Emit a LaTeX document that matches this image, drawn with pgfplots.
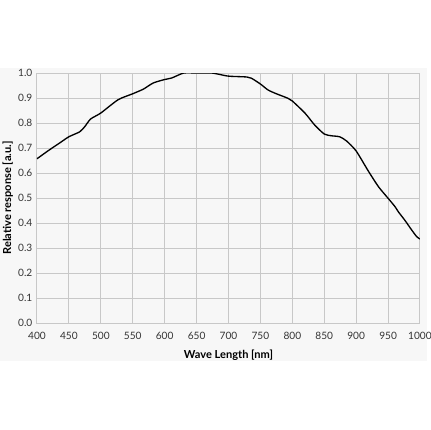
\documentclass[border=0pt]{standalone}
\usepackage{fontspec}
\setmainfont{Lato}
\usepackage{pgfplots}
\pgfplotsset{compat=1.18}
\definecolor{bgGray}{RGB}{247,247,247}
\definecolor{gridGray}{RGB}{200,200,200}
\definecolor{tickText}{RGB}{51,51,51}

\begin{document}
\begin{tikzpicture}
    % 430 x 430 px canvas, 1px = 0.75pt
    \useasboundingbox (0pt,0pt) rectangle (322.5pt,322.5pt);
    \fill[bgGray] (0pt,51.75pt) rectangle (320.25pt,271.7pt);
    \begin{axis}[
        at={(27.75pt,80.25pt)}, anchor=south west,
        scale only axis,
        width=287.25pt, height=187.5pt,
        xmin=400, xmax=1000, ymin=0, ymax=1,
        xtick={400,450,...,1000},
        ytick={0,0.1,...,1.0},
        yticklabel style={/pgf/number format/.cd, fixed, fixed zerofill, precision=1},
        /pgf/number format/assume math mode=true,
        xticklabel style={/pgf/number format/1000 sep={}, yshift=-3.5pt},
        grid=major,
        major grid style={gridGray, line width=0.75pt},
        axis line style={gridGray, line width=0.75pt},
        major tick length=0pt,
        ticklabel style={font=\fontsize{7.6}{9}\selectfont, text=tickText},
        label style={font=\bfseries\fontsize{8.3}{10}\selectfont, text=black},
        xlabel={Wave Length [nm]},
        ylabel={Relative response [a.u.]},
        xlabel style={yshift=-1pt},
        ylabel style={yshift=-3pt},
        axis background/.style={fill=bgGray},
    ]
    \addplot[black, line width=1pt, smooth, tension=0.4] coordinates {
        (400,0.657) (418,0.690) (436,0.721) (450,0.745) (467,0.765)
        (475,0.786) (484,0.816) (500,0.840) (527,0.893) (550,0.917)
        (567,0.936) (582,0.960) (600,0.974) (611,0.980) (630,1.000)
        (650,1.000) (674,1.000) (698,0.988) (711,0.986) (729,0.984)
        (736,0.979) (750,0.956) (762,0.932) (775,0.917) (793,0.899)
        (800,0.888) (820,0.839) (835,0.792) (850,0.756) (861,0.749)
        (874,0.745) (885,0.728) (900,0.688) (919,0.608) (935,0.545)
        (950,0.499) (961,0.465) (966,0.445) (976,0.412) (987,0.372)
        (995,0.345) (1000,0.336)
    };
    \end{axis}
\end{tikzpicture}
\end{document}
